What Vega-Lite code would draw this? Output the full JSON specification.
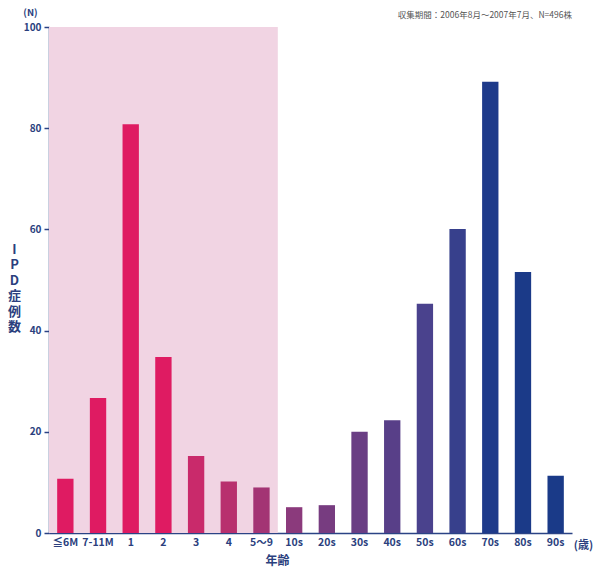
{
  "$schema": "https://vega.github.io/schema/vega-lite/v6.json",
  "width": 523,
  "height": 506,
  "autosize": {"type": "none"},
  "padding": {"left": 49, "top": 27, "right": 28, "bottom": 34},
  "background": "white",
  "config": {"view": {"stroke": null}, "font": "Noto Sans CJK JP"},
  "title": {
    "text": "収集期間：2006年8月〜2007年7月、N=496株",
    "anchor": "end",
    "frame": "group",
    "fontSize": 8.5,
    "fontWeight": "normal",
    "color": "#555555",
    "orient": "top",
    "offset": -12
  },
  "datasets": {
    "bars": [
      {"age": "≦6M", "n": 10.7},
      {"age": "7-11M", "n": 26.7},
      {"age": "1", "n": 80.8},
      {"age": "2", "n": 34.8},
      {"age": "3", "n": 15.2},
      {"age": "4", "n": 10.2},
      {"age": "5〜9", "n": 9},
      {"age": "10s", "n": 5.1},
      {"age": "20s", "n": 5.5},
      {"age": "30s", "n": 20},
      {"age": "40s", "n": 22.3},
      {"age": "50s", "n": 45.3},
      {"age": "60s", "n": 60.1},
      {"age": "70s", "n": 89.2},
      {"age": "80s", "n": 51.6},
      {"age": "90s", "n": 11.3}
    ],
    "region": [{"start": 0, "end": 7, "top": 100}]
  },
  "layer": [
    {
      "data": {"name": "region"},
      "mark": {"type": "rect", "color": "#f1d4e3"},
      "encoding": {
        "x": {"field": "start", "type": "quantitative", "scale": {"domain": [0, 16], "nice": false, "zero": false}, "axis": {"orient": "top", "title": "(歳)", "labels": false, "ticks": false, "domain": false, "grid": false, "titleX": 534, "titleY": 518, "titleFontSize": 11, "titleFontWeight": "bold", "titleColor": "#2b3f7e", "titleAlign": "center", "titleBaseline": "middle"}},
        "x2": {"field": "end"},
        "y": {"field": "top", "type": "quantitative", "scale": {"domain": [0, 100], "nice": false}, "axis": {"orient": "right", "title": ["I", "P", "D", "症", "例", "数"], "titleAngle": 0, "labels": false, "ticks": false, "domain": false, "grid": false, "titleX": -558, "titleY": 216, "titleFontSize": 13, "titleLineHeight": 15.5, "titleFontWeight": "bold", "titleColor": "#2b3f7e", "titleAlign": "center", "titleBaseline": "top"}},
        "y2": {"datum": 0}
      }
    },
    {
      "data": {"name": "bars"},
      "mark": {"type": "bar"},
      "encoding": {
        "x": {
          "field": "age", "type": "nominal", "sort": null,
          "scale": {"paddingInner": 0.5, "paddingOuter": 0.25},
          "axis": {"orient": "bottom", "title": "年齢", "labelAngle": 0, "labelFontSize": 10.5, "labelFontWeight": "bold", "labelColor": "#2b3f7e", "labelPadding": 4, "ticks": false, "domainColor": "#2b4385", "domainWidth": 1.5, "titleFontSize": 12, "titleFontWeight": "bold", "titleColor": "#2b3f7e", "titleX": 228, "titleY": 27, "titleBaseline": "middle"}
        },
        "y": {
          "field": "n", "type": "quantitative",
          "scale": {"domain": [0, 100], "nice": false},
          "axis": {"orient": "left", "title": "(N)", "titleAngle": 0, "titleX": -19, "titleY": -15, "titleFontSize": 9.5, "titleFontWeight": "bold", "titleColor": "#2b3f7e", "titleAlign": "center", "titleBaseline": "middle", "values": [0, 20, 40, 60, 80, 100], "labelFontSize": 10, "labelFontWeight": "bold", "labelColor": "#2b3f7e", "tickColor": "#2b4385", "tickSize": 5, "tickWidth": 1.5, "domainColor": "#2b4385", "domainWidth": 1.5, "grid": false, "labelPadding": 3}
        },
        "color": {
          "field": "age", "type": "nominal", "legend": null,
          "scale": {
            "domain": ["≦6M", "7-11M", "1", "2", "3", "4", "5〜9", "10s", "20s", "30s", "40s", "50s", "60s", "70s", "80s", "90s"],
            "range": ["#df1b62", "#df1b62", "#df1b62", "#df1b62", "#c92a6b", "#b8306e", "#a33474", "#8b3a7c", "#773c80", "#6a3e84", "#583f88", "#4a428d", "#37408c", "#1e3a8a", "#1b3a88", "#1a3a88"]
          }
        }
      }
    }
  ],
  "resolve": {"scale": {"x": "independent", "y": "independent", "color": "independent"}, "axis": {"x": "independent", "y": "independent"}}
}
